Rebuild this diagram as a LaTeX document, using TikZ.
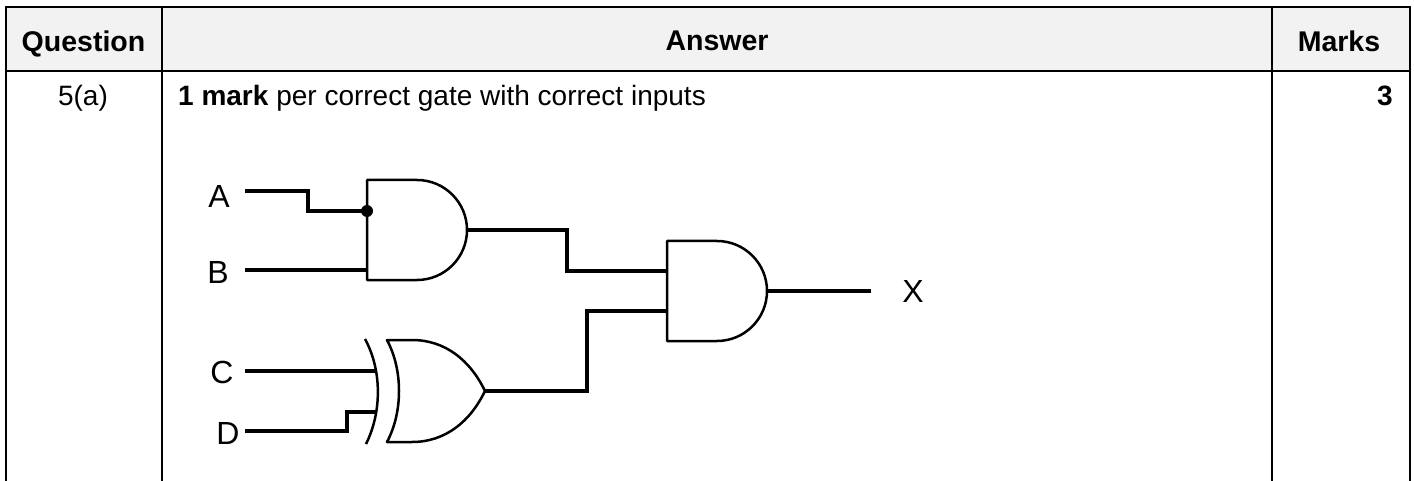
\documentclass[tikz,border=0pt]{standalone}
\usepackage{fontspec}
\setmainfont{Liberation Sans}
\definecolor{headgray}{RGB}{242,242,242}
\begin{document}
\begin{tikzpicture}[x=1pt,y=-1pt,
  tabline/.style={line width=2pt},
  wire/.style={line width=4pt},
  gateline/.style={line width=2.5pt, line join=round},
  headtext/.style={font=\fontsize{28.5}{34}\selectfont\bfseries, anchor=base, inner sep=0pt},
  bodytext/.style={font=\fontsize{28}{34}\selectfont, anchor=base, inner sep=0pt},
  lbl/.style={font=\fontsize{32}{36}\selectfont, inner sep=0pt}]
\useasboundingbox (0,0) rectangle (1414,481);
% table
\fill[headgray] (5.5,7) rectangle (1410,71);
\draw[tabline] (5.5,481) -- (5.5,7) -- (1410,7) -- (1410,481);
\draw[tabline] (5.5,71) -- (1410,71);
\draw[tabline] (162,7) -- (162,481);
\draw[tabline] (1272,7) -- (1272,481);
\node[headtext] (hq) at (83.5,52) {Question};
\node[headtext] (ha) at (717,51) {Answer};
\node[headtext] (hm) at (1339,52) {Marks};
\node[bodytext] (q) at (83,106) {5(a)};
\node[bodytext, anchor=base west] (ans) at (178,106) {\textbf{1 mark} per correct gate with correct inputs};
\node[bodytext, anchor=base east] (mk) at (1393,106) {\textbf{3}};
% labels
\node[lbl] (A) at (219,196) {A};
\node[lbl] (B) at (218,272) {B};
\node[lbl] (C) at (222,372) {C};
\node[lbl] (D) at (228,433) {D};
\node[lbl] (X) at (913,291) {X};
% ports
\coordinate (a0) at (245,191);
\coordinate (b0) at (245,270);
\coordinate (c0) at (245,371);
\coordinate (d0) at (245,431);
\coordinate (g1a) at (367,211);
\coordinate (g1b) at (367,270);
\coordinate (g1o) at (467,230);
\coordinate (g2a) at (667,271);
\coordinate (g2b) at (667,311);
\coordinate (g2o) at (767,291);
\coordinate (g3a) at (376,371);
\coordinate (g3b) at (376,412);
\coordinate (g3o) at (485,391);
\coordinate (xo) at (871,291);
% AND gate 1
\draw[gateline] (367,180) -- (417,180) .. controls (444.6,180) and (467,202.4) .. (467,230)
  .. controls (467,257.6) and (444.6,280) .. (417,280) -- (367,280) -- cycle;
% AND gate 2
\draw[gateline] (667,241) -- (717,241) .. controls (744.6,241) and (767,263.4) .. (767,291)
  .. controls (767,318.6) and (744.6,341) .. (717,341) -- (667,341) -- cycle;
% XOR gate
\draw[gateline] (365,339) .. controls (382,370) and (382,412) .. (366,444);
\draw[gateline] (387,340) -- (412,340) .. controls (445,340) and (470,360) .. (485,391)
  .. controls (470,422) and (445,442) .. (412,442) -- (387,442)
  .. controls (403,412) and (403,370) .. (387,340) -- cycle;
% wires
\draw[wire] (a0) -- (308,191) -- (308,211) -- (g1a);
\fill (g1a) circle (6);
\draw[wire] (b0) -- (g1b);
\draw[wire] (c0) -- (g3a);
\draw[wire] (d0) -- (347,431) -- (347,412) -- (g3b);
\draw[wire] (g1o) -- (567,230) -- (567,271) -- (g2a);
\draw[wire] (g3o) -- (587,391) -- (587,311) -- (g2b);
\draw[wire] (g2o) -- (xo);
\end{tikzpicture}
\end{document}
